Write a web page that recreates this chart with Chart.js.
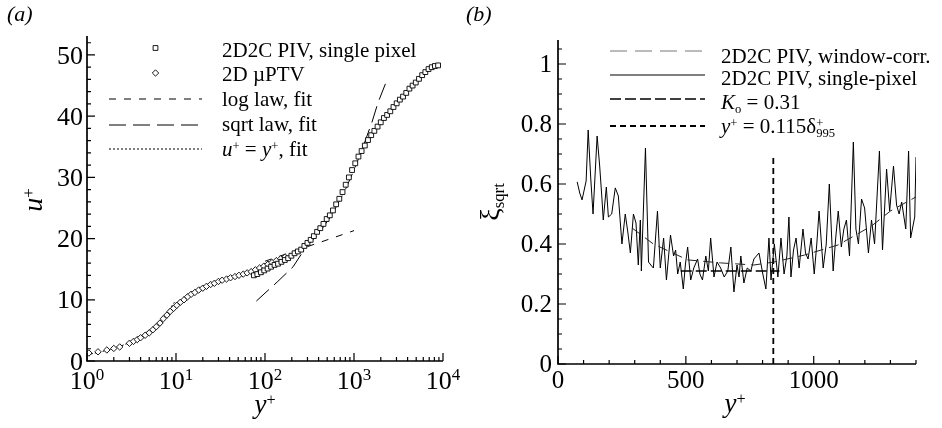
<!DOCTYPE html>
<html>
<head>
<meta charset="utf-8">
<script src="https://cdn.jsdelivr.net/npm/chart.js@4.4.0/dist/chart.umd.min.js"></script>
<style>
  body { margin: 0; background: #fff; }
  #wrap { position: relative; width: 942px; height: 428px; overflow: hidden;
          font-family: "Liberation Serif", "DejaVu Serif", "Times New Roman", serif; color: #000; }
  canvas { position: absolute; top: 0; }
  .t { position: absolute; white-space: nowrap; line-height: 1; }
  .lg { font-size: 21px; }
  sup, sub { font-size: 0.6em; line-height: 0; position: relative; vertical-align: baseline; }
  sup { top: -0.5em; }
  sub { top: 0.3em; }
  i { font-style: italic; }
</style>
</head>
<body>
<div id="wrap">
  <canvas id="chartA" width="471" height="428" style="left:0"></canvas>
  <canvas id="chartB" width="471" height="428" style="left:471px"></canvas>

  <div class="t" style="left:7px;top:3px;font-size:22px"><i>(a)</i></div>
  <div class="t" style="left:466px;top:3px;font-size:22px"><i>(b)</i></div>

  <!-- легенда (a) -->
  <div class="t lg" style="left:222px;top:40px">2D2C PIV, single pixel</div>
  <div class="t lg" style="left:222px;top:64px">2D µPTV</div>
  <div class="t lg" style="left:222px;top:89px">log law, fit</div>
  <div class="t lg" style="left:222px;top:114px">sqrt law, fit</div>
  <div class="t lg" style="left:222px;top:139px"><i>u</i><sup>+</sup> = <i>y</i><sup>+</sup>, fit</div>

  <!-- легенда (b) -->
  <div class="t lg" style="left:721px;top:46px">2D2C PIV, window-corr.</div>
  <div class="t lg" style="left:721px;top:68px">2D2C PIV, single-pixel</div>
  <div class="t lg" style="left:721px;top:92px"><i>K</i><sub>o</sub> = 0.31</div>
  <div class="t lg" style="left:721px;top:116px"><i>y</i><sup>+</sup> = 0.115δ<sup>+</sup><sub style="margin-left:-7px">995</sub></div>

  <!-- подписи осей -->
  <div class="t" style="left:265px;top:391px;font-size:27px;transform:translateX(-50%)"><i>y</i><sup>+</sup></div>
  <div class="t" style="left:735px;top:390px;font-size:27px;transform:translateX(-50%)"><i>y</i><sup>+</sup></div>
  <div class="t" style="left:33px;top:200px;font-size:28px;transform:translate(-50%,-50%) rotate(-90deg)"><i>u</i><sup>+</sup></div>
  <div class="t" style="left:490px;top:202px;font-size:28px;transform:translate(-50%,-50%) rotate(-90deg)">ξ<sub>sqrt</sub></div>
</div>

<script>
// ---- Панель (a): профиль скорости u+ (y+)
const sqYPlus = [75, 82, 90, 98, 107, 117, 128, 140, 153, 167,
  182, 198, 215, 234, 255, 277, 300, 326, 354, 385,
  418, 454, 493, 535, 580, 630, 684, 743, 807, 876,
  951, 1033, 1122, 1218, 1323, 1437, 1560, 1694, 1840, 1998,
  2170, 2356, 2558, 2778, 3017, 3276, 3558, 3863, 4195, 4556,
  4947, 5372, 5834, 6335, 6880, 7471, 8113, 8810];
const sqUPlus = [14.0, 14.2, 14.5, 14.8, 15.1, 15.4, 15.7, 15.9, 16.2, 16.5,
  16.8, 17.2, 17.6, 17.9, 18.2, 18.8, 19.3, 19.8, 20.4, 21.1,
  21.7, 22.4, 23.2, 23.8, 24.6, 25.6, 26.5, 27.6, 28.8, 30.0,
  31.2, 32.3, 33.4, 34.3, 35.2, 36.1, 36.9, 37.6, 38.3, 39.0,
  39.7, 40.2, 40.8, 41.5, 42.1, 42.7, 43.2, 43.8, 44.5, 45.0,
  45.5, 46.1, 46.7, 47.2, 47.7, 48.0, 48.2, 48.3];

const ptvYPlus = [1.05, 1.33, 1.67, 2.0, 2.33, 3.0, 3.33, 3.67, 4.0, 4.5,
  5.0, 5.5, 6.0, 6.6, 7.2, 7.9, 8.6, 9.4, 10.2, 11.2,
  12.3, 13.5, 14.8, 16.3, 18, 20, 22, 24.5, 27, 30,
  33, 37, 41, 46, 51, 57, 63, 70, 78, 87,
  97, 108, 120, 134, 150, 168];
const ptvUPlus = [1.3, 1.5, 1.8, 2.05, 2.3, 2.9, 3.2, 3.5, 3.8, 4.2,
  4.6, 5.1, 5.6, 6.2, 6.9, 7.5, 8.1, 8.6, 9.1, 9.6,
  10.0, 10.5, 10.9, 11.2, 11.6, 11.9, 12.2, 12.5, 12.7, 13.0,
  13.2, 13.4, 13.6, 13.8, 14.0, 14.2, 14.4, 14.6, 14.9, 15.2,
  15.5, 15.8, 16.1, 16.4, 16.7, 17.0];

const logLawY = [100, 1000];
const logLawU = [16.3, 21.3];
const sqrtLawY = [80, 137, 207, 282, 400, 560, 800, 1000, 1250, 1590, 1860, 2300];
const sqrtLawU = [9.8, 12.9, 15.4, 18.4, 20.8, 23.8, 28.0, 31.2, 34.8, 39.0, 42.2, 45.6];
const linLawY = [1, 2, 3, 4, 5, 6, 7, 8, 9, 9.6];
const linLawU = [1, 2, 3, 4, 5, 6, 7, 8, 9, 9.6];

const ticksAy = [0, 10, 20, 30, 40, 50];
const ticksAxExp = [0, 1, 2, 3, 4];

// ---- Панель (b): ξ_sqrt (y+)
const xiYPlus = [75, 85, 94, 110, 118, 128, 137, 153, 163, 172,
  177, 189, 197, 210, 224, 236, 250, 263, 273, 283,
  295, 305, 314, 322, 326, 342, 354, 363, 373, 389,
  400, 413, 424, 440, 452, 460, 468, 478, 490, 498,
  507, 519, 531, 546, 555, 565, 578, 588, 597, 610,
  622, 636, 650, 664, 676, 688, 700, 708, 715, 727,
  740, 754, 766, 786, 801, 813, 825, 833, 846, 860,
  872, 884, 895, 903, 911, 921, 931, 943, 958, 968,
  978, 990, 1002, 1012, 1021, 1037, 1049, 1061, 1076, 1086,
  1096, 1108, 1118, 1128, 1140, 1155, 1165, 1175, 1187, 1199,
  1214, 1226, 1238, 1257, 1269, 1285, 1297, 1312, 1324, 1334,
  1344, 1360, 1371, 1379, 1395, 1400];
const xiSingle = [0.607, 0.57, 0.547, 0.61, 0.78, 0.62, 0.50, 0.76, 0.66, 0.55,
  0.48, 0.59, 0.49, 0.50, 0.587, 0.56, 0.40, 0.50, 0.44, 0.37,
  0.50, 0.47, 0.33, 0.48, 0.31, 0.72, 0.34, 0.33, 0.32, 0.51,
  0.32, 0.42, 0.28, 0.43, 0.36, 0.38, 0.30, 0.34, 0.25, 0.33,
  0.39, 0.28, 0.32, 0.35, 0.30, 0.28, 0.36, 0.31, 0.42, 0.29,
  0.34, 0.32, 0.29, 0.31, 0.39, 0.24, 0.33, 0.29, 0.36, 0.27,
  0.32, 0.31, 0.35, 0.37, 0.30, 0.25, 0.42, 0.28, 0.40, 0.29,
  0.42, 0.30, 0.36, 0.49, 0.29, 0.38, 0.42, 0.32, 0.45, 0.37,
  0.35, 0.42, 0.30, 0.40, 0.51, 0.32, 0.40, 0.60, 0.31, 0.42,
  0.51, 0.39, 0.45, 0.48, 0.36, 0.74, 0.45, 0.40, 0.55, 0.52,
  0.37, 0.48, 0.40, 0.71, 0.38, 0.65, 0.51, 0.66, 0.53, 0.50,
  0.54, 0.45, 0.71, 0.42, 0.49, 0.69];

const winYPlus = [290, 373, 507, 636, 766, 845, 963, 1096, 1226, 1300, 1400];
const winXi = [0.453, 0.40, 0.347, 0.337, 0.33, 0.34, 0.363, 0.397, 0.46, 0.51, 0.557];

const koYPlus = [480, 866];
const koXi = [0.31, 0.31];
const cutYPlus = [842, 842];
const cutXi = [0, 0.69];

const ticksBy = [0, 0.2, 0.4, 0.6, 0.8, 1];
const ticksBx = [0, 500, 1000];

function pts(xs, ys) {
  return xs.map((v, i) => ({ x: v, y: ys[i] }));
}

// Оси, засечки внутрь, подписи и образцы легенды
const framePlugin = {
  id: 'frame',
  afterDraw(chart, args, o) {
    const { ctx, chartArea: a } = chart;
    const x = chart.scales.x, y = chart.scales.y;
    ctx.save();
    ctx.strokeStyle = '#000';
    ctx.fillStyle = '#000';
    ctx.lineWidth = 1.7;
    ctx.beginPath();
    ctx.moveTo(a.left, a.top);
    ctx.lineTo(a.left, a.bottom);
    ctx.lineTo(a.right, a.bottom);
    ctx.stroke();

    ctx.lineWidth = 1.2;
    ctx.beginPath();
    o.xMinor.forEach(v => { const p = x.getPixelForValue(v); ctx.moveTo(p, a.bottom); ctx.lineTo(p, a.bottom - 4); });
    o.xMajor.forEach(v => { const p = x.getPixelForValue(v); ctx.moveTo(p, a.bottom); ctx.lineTo(p, a.bottom - 8); });
    o.yMinor.forEach(v => { const p = y.getPixelForValue(v); ctx.moveTo(a.left, p); ctx.lineTo(a.left + 4, p); });
    o.yMajor.forEach(v => { const p = y.getPixelForValue(v); ctx.moveTo(a.left, p); ctx.lineTo(a.left + 8, p); });
    ctx.stroke();

    // подписи делений
    const fs = o.fontSize;
    const fam = 'px "Liberation Serif", "DejaVu Serif", serif';
    ctx.font = fs + fam;
    ctx.textBaseline = 'alphabetic';
    ctx.textAlign = 'right';
    o.yLabels.forEach(v => {
      ctx.fillText(String(v), a.left - o.yPad, y.getPixelForValue(v) + fs * 0.33);
    });
    const base = a.bottom + o.xBase;
    o.xLabels.forEach(l => {
      const p = x.getPixelForValue(l.v);
      ctx.font = fs + fam;
      const w1 = ctx.measureText(l.text).width;
      let w2 = 0;
      if (l.exp !== undefined) {
        ctx.font = Math.round(fs * 0.65) + fam;
        w2 = ctx.measureText(String(l.exp)).width;
      }
      const x0 = p - (w1 + w2) / 2;
      ctx.textAlign = 'left';
      ctx.font = fs + fam;
      ctx.fillText(l.text, x0, base);
      if (l.exp !== undefined) {
        ctx.font = Math.round(fs * 0.65) + fam;
        ctx.fillText(String(l.exp), x0 + w1, base - fs * 0.33);
      }
    });

    // образцы легенды
    o.legend.forEach(it => {
      const ds = chart.data.datasets[it.ds];
      ctx.save();
      if (ds.showLine) {
        ctx.strokeStyle = it.color || ds.borderColor;
        ctx.lineWidth = ds.borderWidth;
        ctx.setLineDash(it.dash || ds.borderDash || []);
        ctx.beginPath();
        ctx.moveTo(o.legendX1, it.y);
        ctx.lineTo(o.legendX2, it.y);
        ctx.stroke();
      } else {
        ctx.strokeStyle = ds.borderColor;
        ctx.fillStyle = ds.backgroundColor;
        ctx.lineWidth = ds.borderWidth;
        Chart.helpers.drawPoint(ctx, { pointStyle: ds.pointStyle, radius: ds.pointRadius, borderWidth: ds.borderWidth, rotation: 0 },
          (o.legendX1 + o.legendX2) / 2, it.y);
      }
      ctx.restore();
    });
    ctx.restore();
  }
};

function logMinor() {
  const out = [];
  for (let d = 1; d < 10000; d *= 10) for (let k = 2; k <= 9; k++) out.push(d * k);
  return out;
}
function stepList(from, to, step) {
  const out = [];
  for (let v = from; v <= to + 1e-9; v += step) out.push(Math.round(v * 1000) / 1000);
  return out;
}

const common = {
  responsive: false,
  animation: false,
  events: [],
  plugins: { legend: { display: false }, tooltip: { enabled: false } }
};

// Панель (a)
new Chart(document.getElementById('chartA'), {
  type: 'scatter',
  data: {
    datasets: [
      { data: pts(sqYPlus, sqUPlus), pointStyle: 'rect', pointRadius: 3.4, borderWidth: 0.9,
        borderColor: '#000', backgroundColor: '#fff', showLine: false },
      { data: pts(ptvYPlus, ptvUPlus), pointStyle: 'rectRot', pointRadius: 3.2, borderWidth: 0.9,
        borderColor: '#000', backgroundColor: '#fff', showLine: false },
      { data: pts(logLawY, logLawU), showLine: true, pointRadius: 0, borderColor: '#000',
        borderWidth: 1, borderDash: [7, 8], order: 5 },
      { data: pts(sqrtLawY, sqrtLawU), showLine: true, pointRadius: 0, borderColor: '#000',
        borderWidth: 1, borderDash: [17, 7], order: 5 },
      { data: pts(linLawY, linLawU), showLine: true, pointRadius: 0, borderColor: '#000',
        borderWidth: 1, borderDash: [2, 2], order: 5 }
    ]
  },
  options: {
    ...common,
    layout: { padding: { left: 87, right: 28, top: 36, bottom: 67 } },
    scales: {
      x: { type: 'logarithmic', min: 1, max: 10000, display: false },
      y: { type: 'linear', min: 0, max: 53.1, display: false }
    },
    plugins: {
      ...common.plugins,
      frame: {
        xMajor: [1, 10, 100, 1000, 10000], xMinor: logMinor(),
        yMajor: ticksAy, yMinor: stepList(0, 52, 2),
        yLabels: ticksAy, yPad: 4, fontSize: 26, xBase: 28,
        xLabels: ticksAxExp.map(e => ({ v: Math.pow(10, e), text: '10', exp: e })),
        legendX1: 109, legendX2: 202,
        legend: [{ ds: 0, y: 48 }, { ds: 1, y: 73 }, { ds: 2, y: 99 }, { ds: 3, y: 125 }, { ds: 4, y: 149 }]
      }
    }
  },
  plugins: [framePlugin]
});

// Панель (b)
new Chart(document.getElementById('chartB'), {
  type: 'scatter',
  data: {
    datasets: [
      { data: pts(winYPlus, winXi), showLine: true, pointRadius: 0, borderColor: '#222',
        borderWidth: 1, borderDash: [10, 6] },
      { data: pts(xiYPlus, xiSingle), showLine: true, pointRadius: 0, borderColor: '#000',
        borderWidth: 1 },
      { data: pts(koYPlus, koXi), showLine: true, pointRadius: 0, borderColor: '#000',
        borderWidth: 1.6, borderDash: [11, 4] },
      { data: pts(cutYPlus, cutXi), showLine: true, pointRadius: 0, borderColor: '#000',
        borderWidth: 1.8, borderDash: [6, 4] }
    ]
  },
  options: {
    ...common,
    layout: { padding: { left: 87, right: 26, top: 40, bottom: 64 } },
    scales: {
      x: { type: 'linear', min: 0, max: 1400, display: false },
      y: { type: 'linear', min: 0, max: 1.08, display: false }
    },
    plugins: {
      ...common.plugins,
      frame: {
        xMajor: [0, 500, 1000], xMinor: stepList(0, 1400, 100),
        yMajor: ticksBy, yMinor: stepList(0, 1.05, 0.05),
        yLabels: ticksBy, yPad: 6, fontSize: 25, xBase: 24,
        xLabels: ticksBx.map(v => ({ v: v, text: String(v) })),
        legendX1: 139, legendX2: 234,
        legend: [{ ds: 0, y: 51, dash: [17, 8], color: '#777' }, { ds: 1, y: 75 }, { ds: 2, y: 99 }, { ds: 3, y: 126 }]
      }
    }
  },
  plugins: [framePlugin]
});
</script>
</body>
</html>
